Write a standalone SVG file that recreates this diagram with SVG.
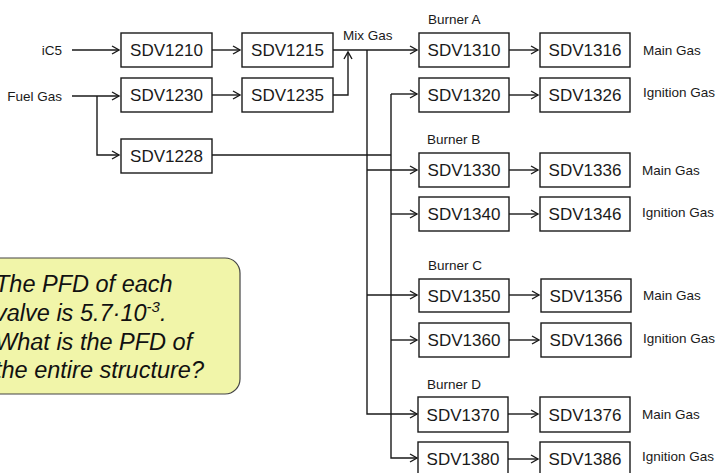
<svg xmlns="http://www.w3.org/2000/svg" width="721" height="473" viewBox="0 0 721 473">
<defs>
<marker id="arr" markerWidth="10" markerHeight="10" refX="8" refY="5" orient="auto" markerUnits="userSpaceOnUse">
<path d="M1,1 L8,5 L1,9" fill="none" stroke="#1a1a1a" stroke-width="1.4"/>
</marker>
<style>
.box{fill:#fff;stroke:#1a1a1a;stroke-width:1.4}
.lbl{font-family:"Liberation Sans",Arial,sans-serif;font-size:17px;fill:#1a1a1a;text-anchor:middle}
.sm{font-family:"Liberation Sans",Arial,sans-serif;font-size:13.5px;fill:#1a1a1a}
.ln{fill:none;stroke:#1a1a1a;stroke-width:1.4}
.q{font-family:"Liberation Sans",Arial,sans-serif;font-size:23.5px;font-style:italic;fill:#111}
</style>
</defs>
<rect width="721" height="473" fill="#fff"/>

<g id="connectors">
<path class="ln" d="M72,50 H119" marker-end="url(#arr)"/>
<path class="ln" d="M212,50 H240" marker-end="url(#arr)"/>
<path class="ln" d="M72,96 H119" marker-end="url(#arr)"/>
<path class="ln" d="M97,96 V155 H119" marker-end="url(#arr)"/>
<path class="ln" d="M212,95 H240" marker-end="url(#arr)"/>
<path class="ln" d="M333,95 H348 V52" marker-end="url(#arr)"/>
<path class="ln" d="M333,50 H417" marker-end="url(#arr)"/>
<path class="ln" d="M212,155 H391"/>
<path class="ln" d="M367,50 V414 H417" marker-end="url(#arr)"/>
<path class="ln" d="M367,170 H417" marker-end="url(#arr)"/>
<path class="ln" d="M367,295 H417" marker-end="url(#arr)"/>
<path class="ln" d="M391,94 V458 H417" marker-end="url(#arr)"/>
<path class="ln" d="M391,94 H417" marker-end="url(#arr)"/>
<path class="ln" d="M391,214 H417" marker-end="url(#arr)"/>
<path class="ln" d="M391,340 H417" marker-end="url(#arr)"/>
<path class="ln" d="M509,50 H538" marker-end="url(#arr)"/>
<path class="ln" d="M509,95 H538" marker-end="url(#arr)"/>
<path class="ln" d="M509,170 H538" marker-end="url(#arr)"/>
<path class="ln" d="M509,214 H538" marker-end="url(#arr)"/>
<path class="ln" d="M509,295 H539" marker-end="url(#arr)"/>
<path class="ln" d="M509,340 H539" marker-end="url(#arr)"/>
<path class="ln" d="M508,414 H538" marker-end="url(#arr)"/>
<path class="ln" d="M508,459 H538" marker-end="url(#arr)"/>
</g>

<g id="labels">
<text class="sm" x="62" y="55" text-anchor="end">iC5</text>
<text class="sm" x="62" y="101" text-anchor="end">Fuel Gas</text>
<text class="sm" x="343" y="40">Mix Gas</text>
<text class="sm" x="428" y="24">Burner A</text>
<text class="sm" x="427" y="144">Burner B</text>
<text class="sm" x="428" y="270">Burner C</text>
<text class="sm" x="427" y="389">Burner D</text>
<text class="sm" x="643" y="55">Main Gas</text>
<text class="sm" x="643" y="97">Ignition Gas</text>
<text class="sm" x="642" y="175">Main Gas</text>
<text class="sm" x="642" y="217">Ignition Gas</text>
<text class="sm" x="643" y="300">Main Gas</text>
<text class="sm" x="643" y="343">Ignition Gas</text>
<text class="sm" x="642" y="419">Main Gas</text>
<text class="sm" x="642" y="461">Ignition Gas</text>
</g>

<g id="SDV1210"><rect class="box" x="121" y="33" width="91" height="34"/><text class="lbl" x="166.5" y="56">SDV1210</text></g>
<g id="SDV1215"><rect class="box" x="242" y="33" width="91" height="34"/><text class="lbl" x="287.5" y="56">SDV1215</text></g>
<g id="SDV1230"><rect class="box" x="121" y="78" width="91" height="34"/><text class="lbl" x="166.5" y="101">SDV1230</text></g>
<g id="SDV1235"><rect class="box" x="242" y="78" width="91" height="34"/><text class="lbl" x="287.5" y="101">SDV1235</text></g>
<g id="SDV1228"><rect class="box" x="121" y="139" width="91" height="34"/><text class="lbl" x="166.5" y="162">SDV1228</text></g>

<g id="SDV1310"><rect class="box" x="419" y="33" width="90" height="34"/><text class="lbl" x="464" y="56">SDV1310</text></g>
<g id="SDV1316"><rect class="box" x="540" y="33" width="90" height="34"/><text class="lbl" x="585" y="56">SDV1316</text></g>
<g id="SDV1320"><rect class="box" x="419" y="78" width="90" height="34"/><text class="lbl" x="464" y="101">SDV1320</text></g>
<g id="SDV1326"><rect class="box" x="540" y="78" width="90" height="34"/><text class="lbl" x="585" y="101">SDV1326</text></g>
<g id="SDV1330"><rect class="box" x="419" y="153" width="90" height="34"/><text class="lbl" x="464" y="176">SDV1330</text></g>
<g id="SDV1336"><rect class="box" x="540" y="153" width="90" height="34"/><text class="lbl" x="585" y="176">SDV1336</text></g>
<g id="SDV1340"><rect class="box" x="419" y="197" width="90" height="34"/><text class="lbl" x="464" y="220">SDV1340</text></g>
<g id="SDV1346"><rect class="box" x="540" y="197" width="90" height="34"/><text class="lbl" x="585" y="220">SDV1346</text></g>
<g id="SDV1350"><rect class="box" x="419" y="279" width="90" height="33"/><text class="lbl" x="464" y="302">SDV1350</text></g>
<g id="SDV1356"><rect class="box" x="541" y="279" width="90" height="33"/><text class="lbl" x="586" y="302">SDV1356</text></g>
<g id="SDV1360"><rect class="box" x="419" y="323" width="90" height="34"/><text class="lbl" x="464" y="346">SDV1360</text></g>
<g id="SDV1366"><rect class="box" x="541" y="323" width="90" height="34"/><text class="lbl" x="586" y="346">SDV1366</text></g>
<g id="SDV1370"><rect class="box" x="418" y="397" width="90" height="35"/><text class="lbl" x="463" y="421">SDV1370</text></g>
<g id="SDV1376"><rect class="box" x="540" y="397" width="90" height="35"/><text class="lbl" x="585" y="421">SDV1376</text></g>
<g id="SDV1380"><rect class="box" x="418" y="442" width="90" height="34"/><text class="lbl" x="463" y="465">SDV1380</text></g>
<g id="SDV1386"><rect class="box" x="540" y="442" width="90" height="34"/><text class="lbl" x="585" y="465">SDV1386</text></g>

<g id="callout">
<rect x="-20" y="258" width="260" height="136" rx="15" fill="#f1f5a9" stroke="#444" stroke-width="1.2"/>
<text class="q" x="-5" y="292">The PFD of each</text>
<text class="q" x="-5" y="321">valve is 5.7·10<tspan font-size="15" dy="-9">-3</tspan><tspan dy="9">.</tspan></text>
<text class="q" x="-5" y="349.5">What is the PFD of</text>
<text class="q" x="-5" y="378">the entire structure?</text>
</g>
</svg>
